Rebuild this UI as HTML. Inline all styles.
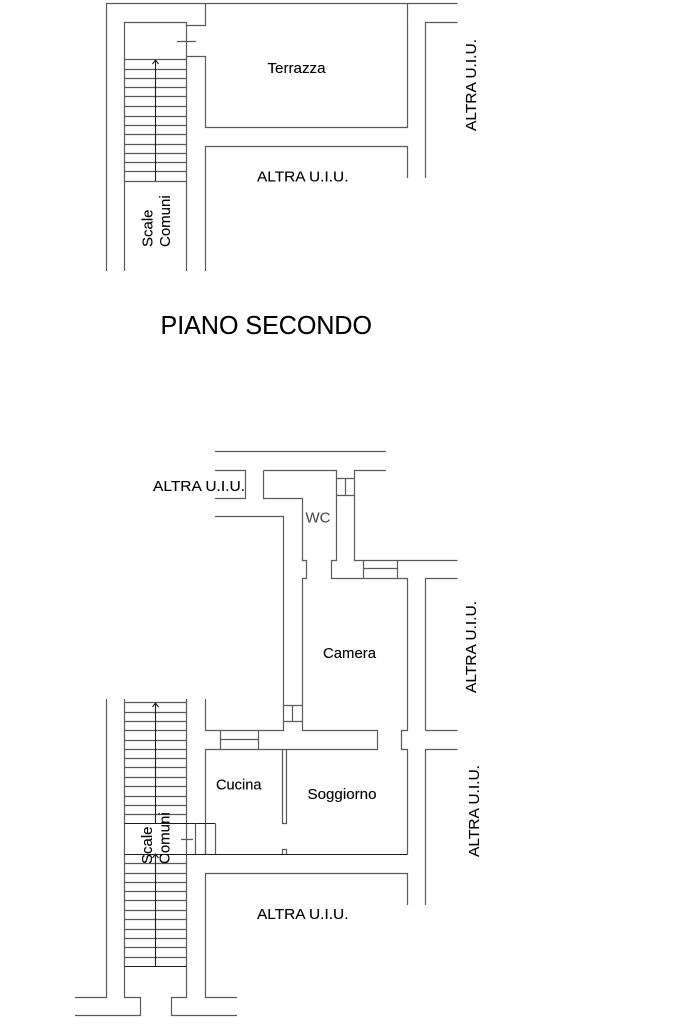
<!DOCTYPE html>
<html><head><meta charset="utf-8"><style>
html,body{margin:0;padding:0;background:#fff;width:683px;height:1024px;overflow:hidden}
svg{display:block;filter:blur(0.3px)}
.l{fill:none;stroke:#5a5a5a;stroke-width:1.2}
.k{fill:none;stroke:#1c1c1c;stroke-width:1.1}
text{font-family:"Liberation Sans",sans-serif;font-size:15px;fill:#000;stroke:#000;stroke-width:0.12px}
</style></head><body>
<svg width="683" height="1024" viewBox="0 0 683 1024" xmlns="http://www.w3.org/2000/svg">
<!-- top plan -->
<path class="l" d="M106.5 271V3.5H457.5M205.5 3.5V25.5H186.5M124.5 271V22.5H186.5V271M177 41.5H196M186.5 56.5H205.5V127.5H407.5V3.5M205.5 271V146.5H407.5V178M425.5 178V22.5H457.5"/>
<path class="l" d="M124.5 59.5H186.5M124.5 69.5H186.5M124.5 78.5H186.5M124.5 87.5H186.5M124.5 96.5H186.5M124.5 106.5H186.5M124.5 116.5H186.5M124.5 125.5H186.5M124.5 134.5H186.5M124.5 144.5H186.5M124.5 153.5H186.5M124.5 162.5H186.5M124.5 171.5H186.5M124.5 181.5H186.5"/>
<path class="k" d="M155.5 60V181M152.5 64L155.5 60L158.5 64"/>
<!-- lower plan -->
<path class="l" d="M215 451.5H386M215 470.5H245.5V498.5H215M215 516.5H283.5V730.5H205.5V699M263.5 470.5H336.5V560.5H331.5V578.5H407.5V730.5H401.5V749.5H407.5V854.5M263.5 470.5V498.5H302.5V560.5H306.5V578.5H302.5V730.5H377.5V749.5H205.5V854.5"/>
<path class="l" d="M336.5 478.5H354.5M336.5 495.5H354.5M345.5 478.5V495.5M386 470.5H354.5V560.5H457.5M363.5 560.5V578.5M397.5 560.5V578.5M363.5 568.5H397.5"/>
<path class="l" d="M425.5 730.5V578.5H457.5M425.5 730.5H457.5M457.5 749.5H425.5V905M407.5 905V873.5H205.5V997.5H237"/>
<path class="l" d="M220.5 730.5V749.5M258.5 730.5V749.5M220.5 739.5H258.5M283.5 705.5H302.5M283.5 721.5H302.5M292.5 705.5V721.5"/>
<path class="l" d="M282.5 749.5V823.5H286.5V749.5M282.5 854V849.5H286.5V854"/>
<path class="l" d="M106.5 699V997.5H75M75 1015.5H140.5V997.5H124.5V699M186.5 699V997.5H171.5V1015.5H237"/>
<path class="l" d="M124.5 702.5H186.5M124.5 712.5H186.5M124.5 721.5H186.5M124.5 730.5H186.5M124.5 740.5H186.5M124.5 749.5H186.5M124.5 758.5H186.5M124.5 767.5H186.5M124.5 777.5H186.5M124.5 786.5H186.5M124.5 796.5H186.5M124.5 805.5H186.5M124.5 814.5H186.5"/>
<path class="l" d="M124.5 863.5H186.5M124.5 873.5H186.5M124.5 882.5H186.5M124.5 891.5H186.5M124.5 900.5H186.5M124.5 910.5H186.5M124.5 919.5H186.5M124.5 929.5H186.5M124.5 938.5H186.5M124.5 947.5H186.5M124.5 957.5H186.5"/>
<path class="k" d="M124.5 966.5H186.5M124.5 823.5H215.5M124.5 854.5H407.5M155.5 703V823M155.5 854V967M152.5 707L155.5 703L158.5 707M152.5 858L155.5 854L158.5 858"/>
<path class="l" d="M195.5 823.5V854M205.5 823.5V854M215.5 823.5V854M181 839.5H193"/>
<!-- labels -->
<text x="267.5" y="73" textLength="58" lengthAdjust="spacingAndGlyphs">Terrazza</text>
<text x="257" y="181.5" textLength="91.5" lengthAdjust="spacingAndGlyphs">ALTRA U.I.U.</text>
<text transform="translate(476 131) rotate(-90)" textLength="92" lengthAdjust="spacingAndGlyphs">ALTRA U.I.U.</text>
<text transform="translate(152.5 247) rotate(-90)">Scale</text>
<text transform="translate(170 247) rotate(-90)">Comuni</text>
<text x="160.5" y="334" style="font-size:25.5px" textLength="211.5" lengthAdjust="spacingAndGlyphs">PIANO SECONDO</text>
<text x="153" y="491" textLength="92" lengthAdjust="spacingAndGlyphs">ALTRA U.I.U.</text>
<text x="305.5" y="522.5" style="fill:#444;stroke:none">WC</text>
<text x="323" y="658" textLength="53" lengthAdjust="spacingAndGlyphs">Camera</text>
<text x="216" y="789.5" textLength="45.5" lengthAdjust="spacingAndGlyphs">Cucina</text>
<text x="307.5" y="799" textLength="69" lengthAdjust="spacingAndGlyphs">Soggiorno</text>
<text x="257" y="919" textLength="91.5" lengthAdjust="spacingAndGlyphs">ALTRA U.I.U.</text>
<text transform="translate(476 693) rotate(-90)" textLength="92" lengthAdjust="spacingAndGlyphs">ALTRA U.I.U.</text>
<text transform="translate(479 857) rotate(-90)" textLength="92" lengthAdjust="spacingAndGlyphs">ALTRA U.I.U.</text>
<text transform="translate(152 864) rotate(-90)">Scale</text>
<text transform="translate(169.5 864) rotate(-90)">Comuni</text>
</svg>
</body></html>
